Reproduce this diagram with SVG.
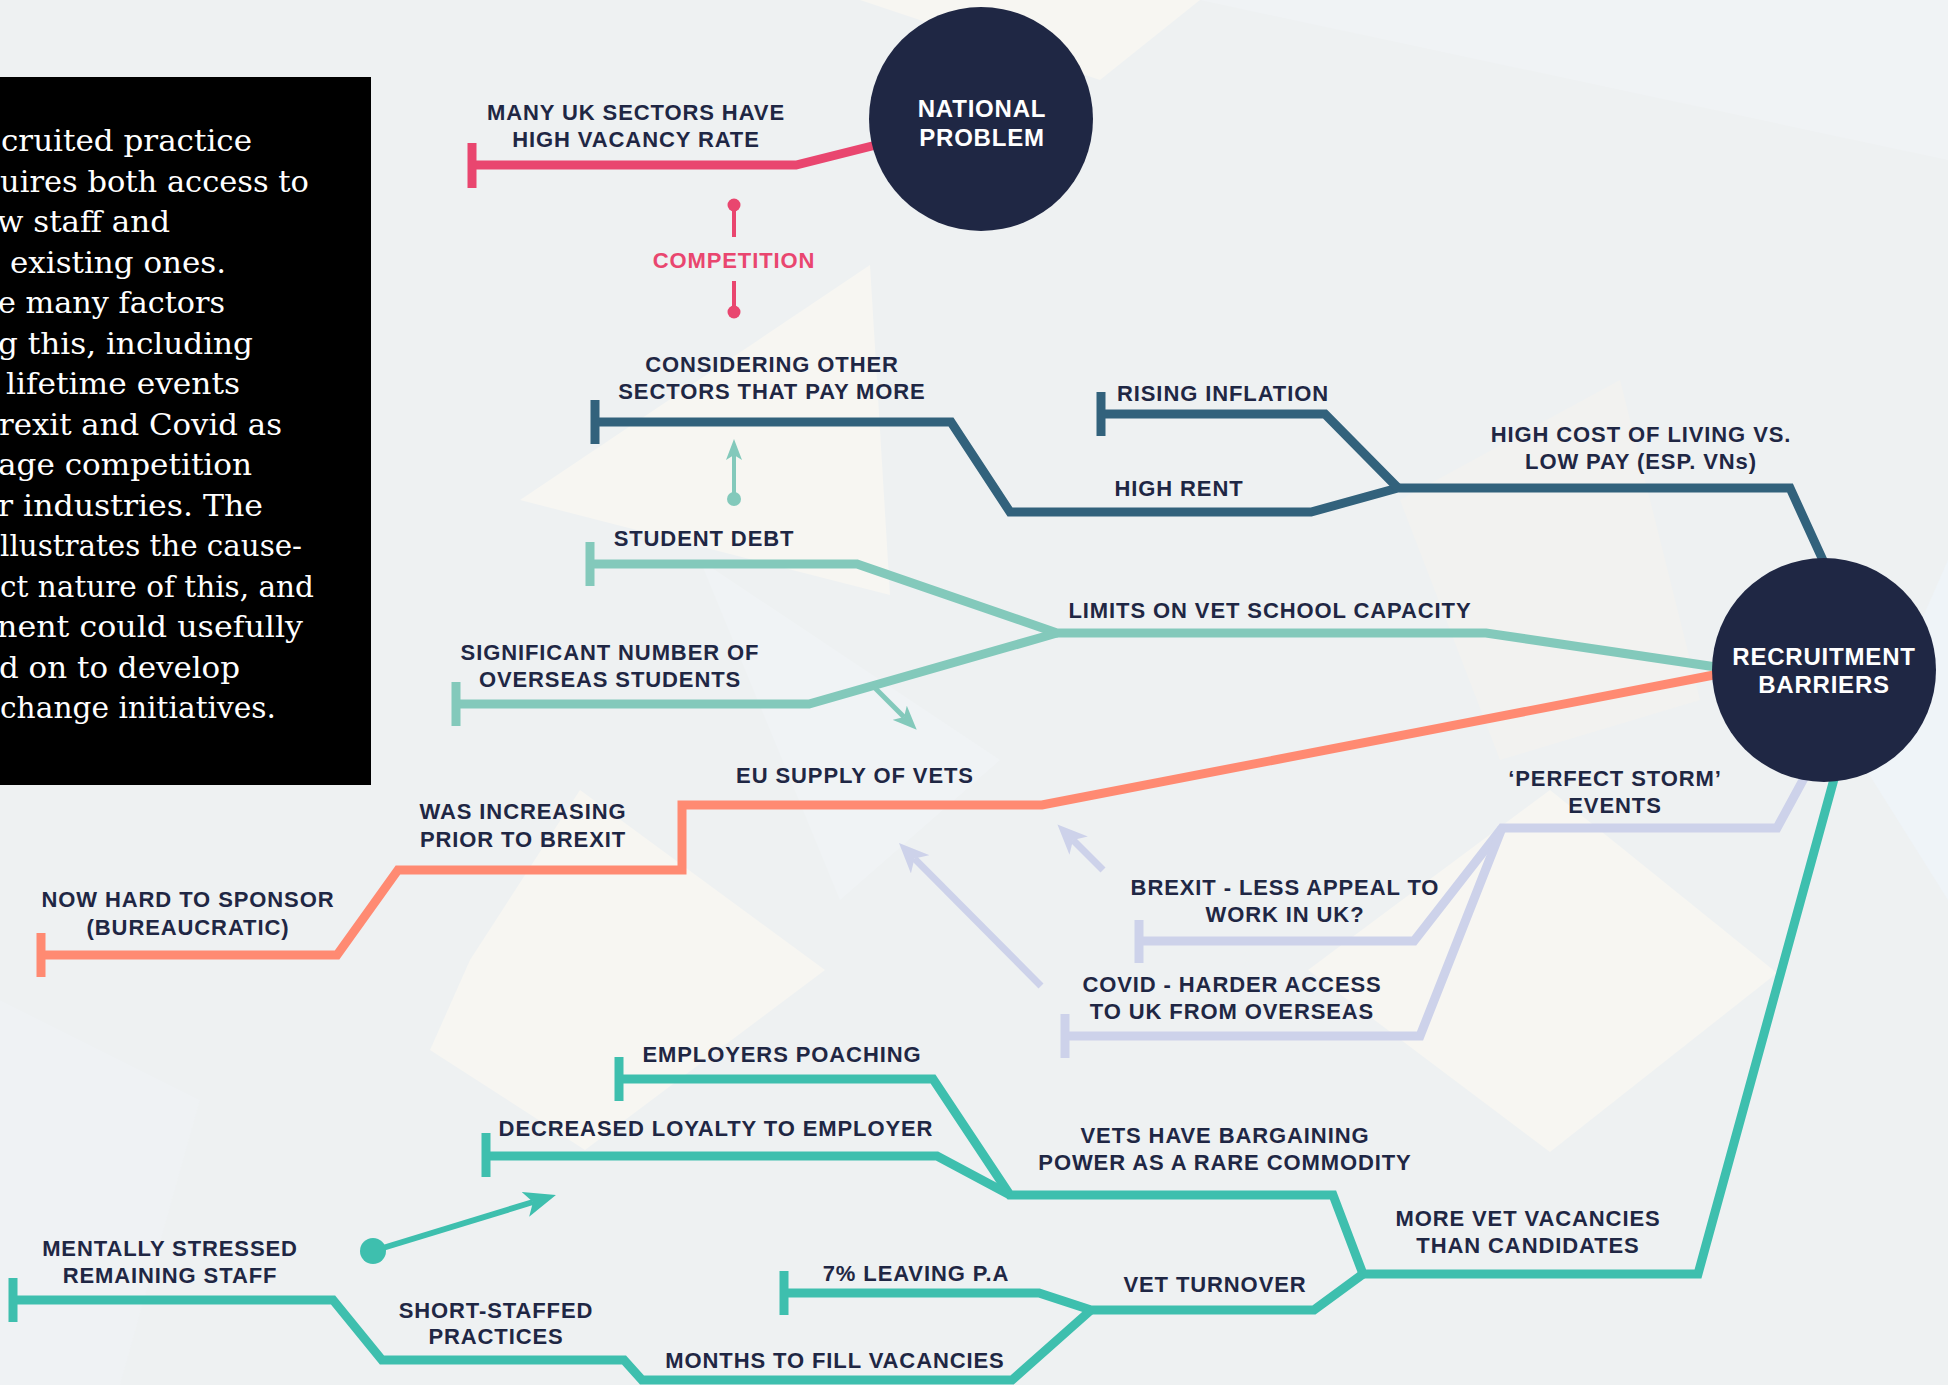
<svg xmlns="http://www.w3.org/2000/svg" width="1948" height="1385" viewBox="0 0 1948 1385">
  <defs>
    <style>
      .lbl { font-family: "Liberation Sans", "Open Sans", sans-serif; font-weight: 700; font-size: 22px; letter-spacing: 0.9px; fill: #1f2744; text-anchor: middle; }
      .hub { font-family: "Liberation Sans", "Open Sans", sans-serif; font-weight: 700; font-size: 24px; letter-spacing: 0.8px; fill: #ffffff; text-anchor: middle; }
      .para { font-family: "DejaVu Serif", "Liberation Serif", serif; font-size: 29px; fill: #ffffff; }
      .hubc { fill: #1f2744; }
      .ln { fill: none; stroke-width: 9; stroke-linejoin: miter; stroke-linecap: butt; }
      .pink { stroke: #e9466f; }
      .navy { stroke: #32627c; }
      .mint { stroke: #83c9bb; }
      .salmon { stroke: #ff8a72; }
      .lav { stroke: #cdd2ea; }
      .teal { stroke: #3ebfae; }
    </style>
    <marker id="head-lav" viewBox="0 0 30 26" refX="8" refY="13" markerWidth="30" markerHeight="26" markerUnits="userSpaceOnUse" orient="auto">
      <path d="M30,13 L0,0 L8,13 L0,26 Z" fill="#cdd2ea"/>
    </marker>
    <marker id="head-mint" viewBox="0 0 24 20" refX="6" refY="10" markerWidth="24" markerHeight="20" markerUnits="userSpaceOnUse" orient="auto">
      <path d="M24,10 L0,0 L6,10 L0,20 Z" fill="#83c9bb"/>
    </marker>
    <marker id="head-mint-s" viewBox="0 0 21 16" refX="5" refY="8" markerWidth="21" markerHeight="16" markerUnits="userSpaceOnUse" orient="auto">
      <path d="M21,8 L0,0 L5,8 L0,16 Z" fill="#83c9bb"/>
    </marker>
    <marker id="head-teal" viewBox="0 0 32 26" refX="8" refY="13" markerWidth="32" markerHeight="26" markerUnits="userSpaceOnUse" orient="auto">
      <path d="M32,13 L0,0 L8,13 L0,26 Z" fill="#3ebfae"/>
    </marker>
  </defs>

  <!-- background with soft low-poly facets -->
  <rect x="0" y="0" width="1948" height="1385" fill="#eef1f2"/>
  <g id="facets">
    <polygon points="860,0 1200,0 1100,80" fill="#f7f6f2"/>
    <polygon points="1200,0 1948,0 1948,160" fill="#f0f3f5"/>
    <polygon points="520,500 870,265 890,595" fill="#f7f6f2"/>
    <polygon points="580,790 825,970 585,1150 430,1050 470,960" fill="#f7f6f2"/>
    <polygon points="1550,790 1777,973 1550,1152 1308,970" fill="#f7f6f2"/>
    <polygon points="1400,500 1620,380 1700,700 1500,760" fill="#f2f2f0"/>
    <polygon points="1948,560 1948,900 1860,760" fill="#eff4f8"/>
    <polygon points="0,1000 200,1100 120,1385 0,1385" fill="#eff2f4"/>
    <polygon points="700,560 1000,760 840,900" fill="#f0f3f5"/>
  </g>

  <!-- intro text panel -->
  <g id="intro">
    <rect x="0" y="77" width="371" height="708" fill="#000000"/>
    <text class="para" x="1" y="151" textLength="251" lengthAdjust="spacingAndGlyphs">cruited practice</text>
    <text class="para" x="0" y="191.5" textLength="309" lengthAdjust="spacingAndGlyphs">uires both access to</text>
    <text class="para" x="-3" y="232" textLength="173" lengthAdjust="spacingAndGlyphs">w staff and</text>
    <text class="para" x="10" y="272.5" textLength="216" lengthAdjust="spacingAndGlyphs">existing ones.</text>
    <text class="para" x="-2" y="313" textLength="227" lengthAdjust="spacingAndGlyphs">e many factors</text>
    <text class="para" x="-2" y="353.5" textLength="255" lengthAdjust="spacingAndGlyphs">g this, including</text>
    <text class="para" x="6" y="394" textLength="234" lengthAdjust="spacingAndGlyphs">lifetime events</text>
    <text class="para" x="-1" y="434.5" textLength="283" lengthAdjust="spacingAndGlyphs">rexit and Covid as</text>
    <text class="para" x="-2" y="475" textLength="254" lengthAdjust="spacingAndGlyphs">age competition</text>
    <text class="para" x="-2" y="515.5" textLength="265" lengthAdjust="spacingAndGlyphs">r industries. The</text>
    <text class="para" x="0" y="556" textLength="302" lengthAdjust="spacingAndGlyphs">llustrates the cause-</text>
    <text class="para" x="0" y="596.5" textLength="314" lengthAdjust="spacingAndGlyphs">ct nature of this, and</text>
    <text class="para" x="-3" y="637" textLength="306" lengthAdjust="spacingAndGlyphs">nent could usefully</text>
    <text class="para" x="-1" y="677.5" textLength="241" lengthAdjust="spacingAndGlyphs">d on to develop</text>
    <text class="para" x="0" y="718" textLength="276" lengthAdjust="spacingAndGlyphs">change initiatives.</text>
  </g>

  <!-- connectors -->
  <g id="connectors">
    <!-- national problem branch -->
    <polyline class="ln pink" points="472,165 796,165 900,139"/>
    <line class="pink" x1="472" y1="143" x2="472" y2="188" stroke-width="9"/>

    <!-- competition link -->
    <line x1="734" y1="205" x2="734" y2="237" stroke="#e9466f" stroke-width="4"/>
    <circle cx="734" cy="205" r="6.5" fill="#e9466f"/>
    <line x1="734" y1="281" x2="734" y2="312" stroke="#e9466f" stroke-width="4"/>
    <circle cx="734" cy="312" r="6.5" fill="#e9466f"/>

    <!-- cost of living branch -->
    <polyline class="ln navy" points="595,422 951,422 1010,512 1311,512 1398,488 1790,488 1832,580"/>
    <polyline class="ln navy" points="1101,414 1325,414 1398,488"/>
    <line class="navy" x1="595" y1="400" x2="595" y2="444" stroke-width="9"/>
    <line class="navy" x1="1101" y1="392" x2="1101" y2="436" stroke-width="9"/>

    <!-- vet school capacity branch -->
    <polyline class="ln mint" points="590,564 857,564 1057,633 1486,633 1750,672"/>
    <polyline class="ln mint" points="456,704 809,704 1057,633"/>
    <line class="mint" x1="590" y1="542" x2="590" y2="586" stroke-width="9"/>
    <line class="mint" x1="456" y1="682" x2="456" y2="726" stroke-width="9"/>
    <line x1="734" y1="499" x2="734" y2="455" stroke="#83c9bb" stroke-width="4" marker-end="url(#head-mint-s)"/>
    <circle cx="734" cy="499" r="7" fill="#83c9bb"/>
    <line x1="875" y1="688" x2="904" y2="717" stroke="#83c9bb" stroke-width="5" marker-end="url(#head-mint)"/>

    <!-- EU supply branch -->
    <polyline class="ln salmon" points="41,955 337,955 398,870 682,870 682,805 1042,805 1750,668"/>
    <line class="salmon" x1="41" y1="933" x2="41" y2="977" stroke-width="9"/>

    <!-- perfect storm branch -->
    <polyline class="ln lav" points="1139,941 1414,941 1502,828 1777,828 1815,758"/>
    <polyline class="ln lav" points="1065,1036 1420,1036 1502,828"/>
    <line class="lav" x1="1139" y1="920" x2="1139" y2="963" stroke-width="9"/>
    <line class="lav" x1="1065" y1="1014" x2="1065" y2="1058" stroke-width="9"/>
    <line x1="1103" y1="870" x2="1073" y2="840" stroke="#cdd2ea" stroke-width="7" marker-end="url(#head-lav)"/>
    <line x1="1041" y1="986" x2="914.5" y2="858.6" stroke="#cdd2ea" stroke-width="7" marker-end="url(#head-lav)"/>

    <!-- vacancies branch -->
    <polyline class="ln teal" points="1842,750 1698,1274 1363,1274 1333,1195 1010,1195 933,1079 619,1079"/>
    <polyline class="ln teal" points="1010,1195 937,1156 486,1156"/>
    <polyline class="ln teal" points="1363,1274 1314,1310 1091,1310 1039,1293 784,1293"/>
    <polyline class="ln teal" points="1091,1310 1012,1380 642,1380 624,1360 382,1360 333,1300 13,1300"/>
    <line class="teal" x1="619" y1="1057" x2="619" y2="1101" stroke-width="9"/>
    <line class="teal" x1="486" y1="1133" x2="486" y2="1177" stroke-width="9"/>
    <line class="teal" x1="784" y1="1271" x2="784" y2="1315" stroke-width="9"/>
    <line class="teal" x1="13" y1="1278" x2="13" y2="1322" stroke-width="9"/>
    <line x1="373" y1="1251" x2="533" y2="1202" stroke="#3ebfae" stroke-width="6" marker-end="url(#head-teal)"/>
    <circle cx="373" cy="1251" r="13" fill="#3ebfae"/>
  </g>

  <!-- hub nodes -->
  <g id="node-national-problem">
    <circle class="hubc" cx="981" cy="119" r="112"/>
    <text class="hub" x="982" y="117">NATIONAL</text>
    <text class="hub" x="982" y="146">PROBLEM</text>
  </g>
  <g id="node-recruitment-barriers">
    <circle class="hubc" cx="1824" cy="670" r="112"/>
    <text class="hub" x="1824" y="665">RECRUITMENT</text>
    <text class="hub" x="1824" y="693">BARRIERS</text>
  </g>

  <!-- factor labels -->
  <g id="node-vacancy-rate"><text class="lbl" x="636" y="120">MANY UK SECTORS HAVE</text><text class="lbl" x="636" y="147">HIGH VACANCY RATE</text></g>
  <g id="node-competition"><text class="lbl" x="734" y="268" style="fill:#e9466f">COMPETITION</text></g>
  <g id="node-other-sectors"><text class="lbl" x="772" y="372">CONSIDERING OTHER</text><text class="lbl" x="772" y="399">SECTORS THAT PAY MORE</text></g>
  <g id="node-inflation"><text class="lbl" x="1223" y="401">RISING INFLATION</text></g>
  <g id="node-rent"><text class="lbl" x="1179" y="496">HIGH RENT</text></g>
  <g id="node-cost-of-living"><text class="lbl" x="1641" y="442">HIGH COST OF LIVING VS.</text><text class="lbl" x="1641" y="469">LOW PAY (ESP. VNs)</text></g>
  <g id="node-student-debt"><text class="lbl" x="704" y="546">STUDENT DEBT</text></g>
  <g id="node-school-capacity"><text class="lbl" x="1270" y="618">LIMITS ON VET SCHOOL CAPACITY</text></g>
  <g id="node-overseas-students"><text class="lbl" x="610" y="660">SIGNIFICANT NUMBER OF</text><text class="lbl" x="610" y="687">OVERSEAS STUDENTS</text></g>
  <g id="node-eu-supply"><text class="lbl" x="855" y="783">EU SUPPLY OF VETS</text></g>
  <g id="node-was-increasing"><text class="lbl" x="523" y="819">WAS INCREASING</text><text class="lbl" x="523" y="847">PRIOR TO BREXIT</text></g>
  <g id="node-sponsor"><text class="lbl" x="188" y="907">NOW HARD TO SPONSOR</text><text class="lbl" x="188" y="935">(BUREAUCRATIC)</text></g>
  <g id="node-perfect-storm"><text class="lbl" x="1615" y="786">‘PERFECT STORM’</text><text class="lbl" x="1615" y="813">EVENTS</text></g>
  <g id="node-brexit"><text class="lbl" x="1285" y="895">BREXIT - LESS APPEAL TO</text><text class="lbl" x="1285" y="922">WORK IN UK?</text></g>
  <g id="node-covid"><text class="lbl" x="1232" y="992">COVID - HARDER ACCESS</text><text class="lbl" x="1232" y="1019">TO UK FROM OVERSEAS</text></g>
  <g id="node-poaching"><text class="lbl" x="782" y="1062">EMPLOYERS POACHING</text></g>
  <g id="node-loyalty"><text class="lbl" x="716" y="1136">DECREASED LOYALTY TO EMPLOYER</text></g>
  <g id="node-bargaining"><text class="lbl" x="1225" y="1143">VETS HAVE BARGAINING</text><text class="lbl" x="1225" y="1170">POWER AS A RARE COMMODITY</text></g>
  <g id="node-more-vacancies"><text class="lbl" x="1528" y="1226">MORE VET VACANCIES</text><text class="lbl" x="1528" y="1253">THAN CANDIDATES</text></g>
  <g id="node-stressed"><text class="lbl" x="170" y="1256">MENTALLY STRESSED</text><text class="lbl" x="170" y="1283">REMAINING STAFF</text></g>
  <g id="node-short-staffed"><text class="lbl" x="496" y="1318">SHORT-STAFFED</text><text class="lbl" x="496" y="1344">PRACTICES</text></g>
  <g id="node-leaving"><text class="lbl" x="916" y="1281">7% LEAVING P.A</text></g>
  <g id="node-turnover"><text class="lbl" x="1215" y="1292">VET TURNOVER</text></g>
  <g id="node-months"><text class="lbl" x="835" y="1368">MONTHS TO FILL VACANCIES</text></g>
</svg>
